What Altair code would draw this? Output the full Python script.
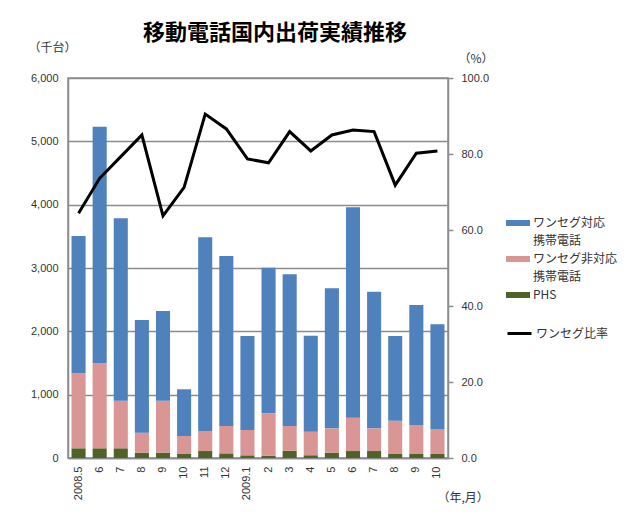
import json
import altair as alt
import pandas as pd

tick_labels = ["2008.5", "6", "7", "8", "9", "10", "11", "12", "2009.1",
               "2", "3", "4", "5", "6", "7", "8", "9", "10"]
oneseg = [2168, 3735, 2879, 1779, 1416, 738, 3058, 2684, 1484,
          2300, 2395, 1515, 2211, 3321, 2158, 1337, 1895, 1653]
non_oneseg = [1184, 1342, 752, 316, 821, 284, 316, 432, 400,
              668, 389, 374, 384, 527, 358, 526, 458, 395]
phs = [153, 153, 153, 84, 84, 63, 110, 73, 42,
       37, 116, 42, 84, 110, 110, 63, 63, 63]
ratio = [64.4, 73.6, 79.3, 85.0, 63.7, 71.2, 90.5, 86.6, 78.7,
         77.7, 85.9, 80.8, 85.0, 86.3, 85.9, 71.8, 80.2, 80.8]

# legend entries: second line of a two-line label is a separate entry with no swatch
s_one = "ワンセグ対応"
s_non = "ワンセグ非対応"
s_phs = "PHS"
legend_domain = [s_one, "携帯電話_1", s_non, "携帯電話_2", s_phs]
legend_range = ["#4F81BD", "transparent", "#D99694", "transparent", "#4F6228"]
line_name = "ワンセグ比率"

rows = []
for i in range(len(tick_labels)):
    rows.append({"idx": i, "series": s_phs, "value": phs[i], "ord": 0})
    rows.append({"idx": i, "series": s_non, "value": non_oneseg[i], "ord": 1})
    rows.append({"idx": i, "series": s_one, "value": oneseg[i], "ord": 2})
bar_df = pd.DataFrame(rows)
line_df = pd.DataFrame({"idx": list(range(len(tick_labels))), "ratio": ratio,
                        "name": [line_name] * len(tick_labels)})

NUM_FONT = "Liberation Sans"
JP_FONT = "Noto Sans CJK JP"
GRID = "#8c8c8c"

label_expr = json.dumps(tick_labels) + "[datum.value]"

bars = alt.Chart(bar_df).mark_bar().encode(
    x=alt.X("idx:O",
            scale=alt.Scale(paddingInner=1 / 3, paddingOuter=1 / 6),
            axis=alt.Axis(labelExpr=label_expr, labelAngle=270, ticks=False,
                          labelFont=NUM_FONT, labelFontSize=11, labelColor="#333",
                          labelPadding=8, domainColor=GRID, domainWidth=1.5,
                          title="（年,月）", titleFont=JP_FONT, titleFontSize=12,
                          titleFontWeight="normal", titleColor="#333",
                          titleAngle=0, titleAlign="left", titleBaseline="middle",
                          titleX=369, titleY=39)),
    y=alt.Y("value:Q", stack="zero",
            scale=alt.Scale(domain=[0, 6000]),
            axis=alt.Axis(values=[0, 1000, 2000, 3000, 4000, 5000, 6000], format=",.0f",
                          grid=True, gridColor=GRID, gridWidth=1.5, ticks=False,
                          domainColor=GRID, domainWidth=1.5,
                          labelFont=NUM_FONT, labelFontSize=11, labelColor="#333",
                          labelPadding=10,
                          title="（千台）", titleFont=JP_FONT, titleFontSize=12,
                          titleFontWeight="normal", titleColor="#333",
                          titleAngle=0, titleAlign="left", titleBaseline="middle",
                          titleX=-40, titleY=-31)),
    color=alt.Color("series:N",
                    scale=alt.Scale(domain=legend_domain, range=legend_range),
                    legend=alt.Legend(orient="none", legendX=438, legendY=133,
                                      title=None, padding=0,
                                      symbolType="M-1,-0.25H1V0.25H-1Z",
                                      symbolSize=576, symbolStrokeWidth=0,
                                      labelExpr="split(datum.label, '_')[0]",
                                      labelFont=JP_FONT, labelFontSize=12,
                                      labelColor="#333", labelOffset=3,
                                      rowPadding=0)),
    order=alt.Order("ord:Q"),
)

line = alt.Chart(line_df).mark_line(strokeWidth=3).encode(
    x=alt.X("idx:O"),
    y=alt.Y("ratio:Q", scale=alt.Scale(domain=[0, 100]),
            axis=alt.Axis(orient="right", values=[0, 20, 40, 60, 80, 100], format=".1f",
                          grid=False, ticks=True, tickSize=5, tickColor=GRID,
                          tickWidth=1.5, domainColor=GRID, domainWidth=1.5,
                          labelFont=NUM_FONT, labelFontSize=11, labelColor="#333",
                          labelPadding=8,
                          title="（%）", titleFont=JP_FONT, titleFontSize=12,
                          titleFontWeight="normal", titleColor="#333",
                          titleAngle=0, titleAlign="left", titleBaseline="middle",
                          titleX=10, titleY=-20)),
    stroke=alt.Stroke("name:N", scale=alt.Scale(domain=[line_name], range=["black"]),
                      legend=alt.Legend(orient="none", legendX=438, legendY=242,
                                        title=None, padding=0, symbolType="stroke",
                                        symbolSize=576, symbolStrokeWidth=3,
                                        labelFont=JP_FONT, labelFontSize=12,
                                        labelColor="#333", labelOffset=3)),
)

chart = alt.layer(bars, line).resolve_scale(y="independent").properties(
    width=380, height=380,
    title=alt.TitleParams("移動電話国内出荷実績推移", font=JP_FONT, fontSize=22,
                          fontWeight="bold", color="black", anchor="middle",
                          dx=17, offset=-4),
    autosize=alt.AutoSizeParams(type="none"),
    padding={"left": 60, "top": 70, "right": 173, "bottom": 63},
).configure_view(stroke=GRID, strokeWidth=1.5)

chart.save("out.html", embed_options={"renderer": "svg", "actions": False})
